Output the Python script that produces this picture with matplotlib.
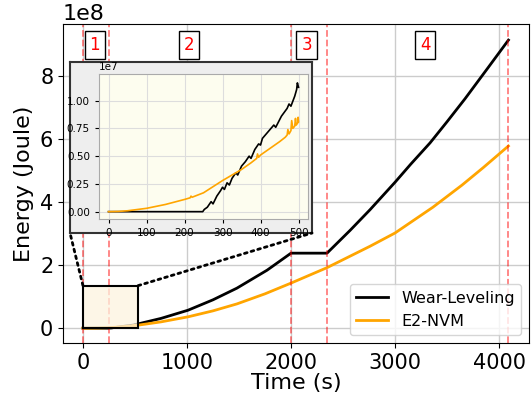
import matplotlib
matplotlib.use("Agg")
import matplotlib.pyplot as plt
from matplotlib.patches import Rectangle, ConnectionPatch

# ---------------- data ----------------
wl_time = [0, 50, 100, 150, 200, 248, 252, 260, 270, 275, 285, 295, 300, 305, 312, 318,
           325, 335, 340, 350, 360, 370, 375, 385, 395, 400, 405, 420, 435, 440, 455,
           470, 475, 480, 490, 495, 497, 500,
           750, 1010, 1250, 1480, 1770, 2000, 2346, 2567, 2760, 3000, 3150, 3337, 3500,
           3673, 3900, 4090]
wl_energy = [0, 0, 0, 0, 0, 0, 0.02e7, 0.04e7, 0.09e7, 0.07e7, 0.14e7, 0.19e7, 0.22e7, 0.20e7,
             0.26e7, 0.24e7, 0.30e7, 0.35e7, 0.33e7, 0.41e7, 0.45e7, 0.50e7, 0.48e7, 0.56e7,
             0.61e7, 0.60e7, 0.66e7, 0.72e7, 0.78e7, 0.76e7, 0.86e7, 0.93e7, 0.97e7, 0.95e7,
             1.04e7, 1.10e7, 1.16e7, 1.12e7,
             0.31e8, 0.57e8, 0.90e8, 1.27e8, 1.84e8, 2.38e8, 2.38e8, 3.10e8, 3.76e8, 4.63e8,
             5.20e8, 5.88e8, 6.55e8, 7.28e8, 8.29e8, 9.14e8]

e2_time = [0, 25, 50, 100, 150, 200, 215, 217, 220, 250, 300, 350, 375, 390, 392, 395, 400,
           425, 450, 465, 470, 472, 475, 480, 482, 485, 490, 492, 494, 498, 499, 500,
           750, 1010, 1250, 1480, 1750, 2000, 2346, 2760, 3000, 3365, 3644, 3850, 4090]
e2_energy = [0, 0.002e7, 0.008e7, 0.03e7, 0.065e7, 0.11e7, 0.125e7, 0.14e7, 0.13e7, 0.17e7,
             0.28e7, 0.38e7, 0.44e7, 0.48e7, 0.52e7, 0.49e7, 0.51e7, 0.57e7, 0.63e7, 0.67e7,
             0.69e7, 0.74e7, 0.70e7, 0.73e7, 0.82e7, 0.75e7, 0.77e7, 0.84e7, 0.78e7, 0.80e7,
             0.85e7, 0.81e7,
             0.20e8, 0.36e8, 0.55e8, 0.77e8, 1.09e8, 1.43e8, 1.92e8, 2.60e8, 3.02e8, 3.84e8,
             4.54e8, 5.10e8, 5.78e8]

phase_bounds = [0, 250, 2000, 2346, 4090]
phase_labels = ["1", "2", "3", "4"]
phase_label_x = [115, 1020, 2150, 3290]

zoom_x = [0, 530]
zoom_y = [0, 1.35e8]
inset_xmax = 500

# ---------------- figure ----------------
fig = plt.figure(figsize=(5.32, 4.03), dpi=100)
ax = fig.add_axes([0.1184, 0.1489, 0.876, 0.7915])

ax.plot(wl_time, wl_energy, color="black", lw=2, label="Wear-Leveling", zorder=2)
ax.plot(e2_time, e2_energy, color="orange", lw=2, label="E2-NVM", zorder=2)
for b in phase_bounds:
    ax.axvline(b, color="red", alpha=0.5, ls="--", lw=1.3, zorder=2.5)
for lx, lab in zip(phase_label_x, phase_labels):
    ax.text(lx, 9.0e8, lab, color="red", fontsize=12, ha="center", va="center",
            bbox=dict(facecolor="white", edgecolor="black", boxstyle="square,pad=0.3", lw=1))

ax.add_patch(Rectangle((zoom_x[0], zoom_y[0]), zoom_x[1] - zoom_x[0], zoom_y[1] - zoom_y[0],
                       facecolor="#fdf4e0", alpha=0.75, edgecolor="none", zorder=3))
ax.add_patch(Rectangle((zoom_x[0], zoom_y[0]), zoom_x[1] - zoom_x[0], zoom_y[1] - zoom_y[0],
                       facecolor="none", edgecolor="black", lw=1.5, zorder=3.1))

ax.set_xlim(-192, 4288)
ax.set_ylim(-0.47e8, 9.65e8)
ax.set_xticks([0, 1000, 2000, 3000, 4000])
ax.set_yticks([0, 2e8, 4e8, 6e8, 8e8])
ax.tick_params(labelsize=15)
ax.yaxis.get_offset_text().set_fontsize(16)
ax.set_xlabel("Time (s)", fontsize=16, labelpad=0)
ax.set_ylabel("Energy (Joule)", fontsize=16)
ax.grid(True, color="#cccccc", lw=1)
ax.set_axisbelow(True)
ax.legend(loc="lower right", fontsize=11.5, framealpha=0.8)

# gray panel behind inset
panel = fig.add_axes([0.1316, 0.4218, 0.4549, 0.4243])
panel.set_facecolor("#eeeeee")
panel.set_xticks([])
panel.set_yticks([])
for s in panel.spines.values():
    s.set_color("#333333")
    s.set_linewidth(1.5)

# inset
ins = fig.add_axes([0.1861, 0.4566, 0.3929, 0.3598])
ins.set_facecolor("#fdfdef")
wl_t_in = [t for t in wl_time if t <= inset_xmax]
wl_e_in = wl_energy[:len(wl_t_in)]
e2_t_in = [t for t in e2_time if t <= inset_xmax]
e2_e_in = e2_energy[:len(e2_t_in)]
ins.plot(wl_t_in, wl_e_in, color="black", lw=1.2)
ins.plot(e2_t_in, e2_e_in, color="orange", lw=1.2)
ins.set_xlim(-25, 525)
ins.set_ylim(-0.066e7, 1.24e7)
ins.set_xticks([0, 100, 200, 300, 400, 500])
ins.set_yticks([0, 0.25e7, 0.5e7, 0.75e7, 1.0e7])
ins.tick_params(labelsize=7.5, length=3)
ins.yaxis.get_offset_text().set_fontsize(7.5)
ins.grid(True, color="#dddddd", lw=0.8)
ins.set_axisbelow(True)
for s in ins.spines.values():
    s.set_color("#aaaaaa")

# dotted connectors
for xa, xb in [(zoom_x[0], 0), (zoom_x[1], 1)]:
    cp = ConnectionPatch(xyA=(xa, zoom_y[1]), coordsA=ax.transData,
                         xyB=(xb, 0), coordsB=panel.transAxes,
                         linestyle=(0, (1, 1.5)), lw=2, color="black")
    fig.add_artist(cp)

fig.savefig("out.png", dpi=100)
